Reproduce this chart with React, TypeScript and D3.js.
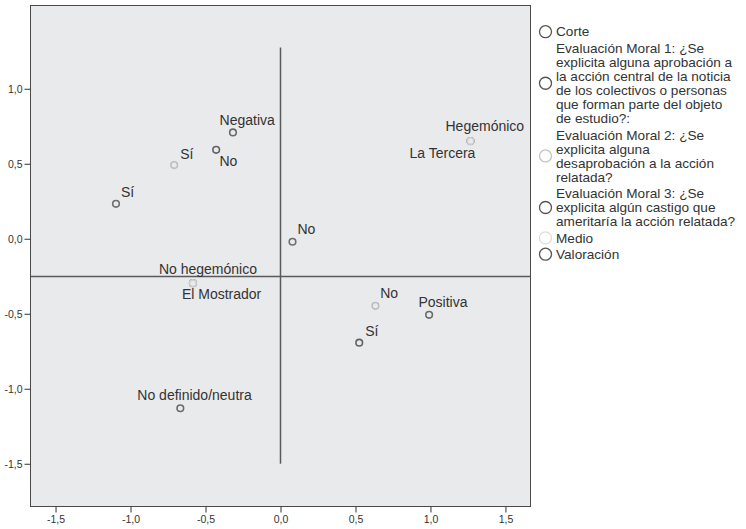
import { useEffect, useRef } from "react";
import * as d3 from "d3";

// category points, [x, y] coordinates
const corteLabels = ["Hegemónico", "No hegemónico"];
const corteX = [1.267, -0.584];
const corteY = [0.651, -0.296];

const em1Labels = ["Sí", "No"];
const em1X = [-1.097, 0.08];
const em1Y = [0.233, -0.02];

const em2Labels = ["Sí", "No"];
const em2X = [-0.709, 0.633];
const em2Y = [0.491, -0.447];

const em3Labels = ["Sí", "No"];
const em3X = [0.525, -0.429];
const em3Y = [-0.693, 0.593];

const medioLabels = ["La Tercera", "El Mostrador"];
const medioX = [1.267, -0.584];
const medioY = [0.651, -0.296];

const valoracionLabels = ["Negativa", "Positiva", "No definido/neutra"];
const valoracionX = [-0.317, 0.991, -0.668];
const valoracionY = [0.709, -0.507, -1.13];

const xTicks = [-1.5, -1.0, -0.5, 0.0, 0.5, 1.0, 1.5];
const yTicks = [-1.5, -1.0, -0.5, 0.0, 0.5, 1.0];

// reference lines
const vLineX = 0;
const vLineY = [-1.5, 1.275];
const hLineY = -0.251;

const legendItems = [
  "Corte",
  "Evaluación Moral 1: ¿Se\nexplicita alguna aprobación a\nla acción central de la noticia\nde los colectivos o personas\nque forman parte del objeto\nde estudio?:",
  "Evaluación Moral 2: ¿Se\nexplicita alguna\ndesaprobación a la acción\nrelatada?",
  "Evaluación Moral 3: ¿Se\nexplicita algún castigo que\nameritaría la acción relatada?",
  "Medio",
  "Valoración",
];

const SERIES_COLORS = ["#666666", "#6e6e6e", "#bdbdbd", "#626262", "#cfcfcf", "#6a6a6a"];
const LEGEND_COLORS = ["#555", "#555", "#c4c4c4", "#555", "#dcdcdc", "#555"];

// label placement relative to each point: [dx, dy]
const labelOffsets: Record<string, [number, number]> = {
  "corte-0": [-25, -10],
  "corte-1": [-34, -9.5],
  "em1-0": [5, -6.6],
  "em1-1": [5, -8],
  "em2-0": [6, -6.4],
  "em2-1": [4.7, -7.6],
  "em3-0": [6, -6.3],
  "em3-1": [3.3, 16.4],
  "medio-0": [-61, 16.6],
  "medio-1": [-11, 15.6],
  "valoracion-0": [-13.4, -7],
  "valoracion-1": [-10.7, -8.3],
  "valoracion-2": [-43, -8.4],
};

type Pt = { key: string; label: string; x: number; y: number; color: string };

function build(prefix: string, labels: string[], xs: number[], ys: number[], color: string): Pt[] {
  return labels.map((label, i) => ({ key: `${prefix}-${i}`, label, x: xs[i], y: ys[i], color }));
}

const commaFormat = (d: d3.NumberValue) =>
  d3.format(".1f")(d as number).replace(".", ",").replace("−", "-");

export default function App() {
  const ref = useRef<HTMLDivElement>(null);

  useEffect(() => {
    if (!ref.current) return;
    const container = ref.current;
    d3.select(container).select("svg").remove();

    const width = 746;
    const height = 529;
    const left = 30.5;
    const right = 530.5;
    const top = 5.5;
    const bottom = 506.5;
    const font = "'Liberation Sans',Arial,sans-serif";

    const x = d3.scaleLinear().domain([-1.667, 1.667]).range([left, right]);
    const y = d3.scaleLinear().domain([-1.785, 1.555]).range([bottom, top]);

    const svg = d3.create("svg")
      .attr("width", width)
      .attr("height", height)
      .attr("viewBox", [0, 0, width, height])
      .attr("style", `position:absolute;left:0;top:0;font-family:${font};`);

    svg.append("rect")
      .attr("x", left).attr("y", top)
      .attr("width", right - left).attr("height", bottom - top)
      .attr("fill", "#e9eaec");

    svg.append("line")
      .attr("x1", x(vLineX)).attr("x2", x(vLineX))
      .attr("y1", y(vLineY[0])).attr("y2", y(vLineY[1]))
      .attr("stroke", "#5a5a5a").attr("stroke-width", 1.5);
    svg.append("line")
      .attr("x1", left).attr("x2", right)
      .attr("y1", y(hLineY)).attr("y2", y(hLineY))
      .attr("stroke", "#5a5a5a").attr("stroke-width", 1.5);

    svg.append("rect")
      .attr("x", left).attr("y", top)
      .attr("width", right - left).attr("height", bottom - top)
      .attr("fill", "none")
      .attr("stroke", "#4a4a4a");

    svg.append("g")
      .attr("transform", `translate(${left},0)`)
      .call(d3.axisLeft(y).tickValues(yTicks).tickSize(6).tickPadding(2).tickFormat(commaFormat))
      .call(g => g.select(".domain").remove())
      .call(g => g.selectAll(".tick line").attr("stroke", "#333"))
      .call(g => g.selectAll(".tick text")
        .attr("fill", "#333").attr("font-size", 10.5).attr("font-family", font));

    svg.append("g")
      .attr("transform", `translate(0,${bottom})`)
      .call(d3.axisBottom(x).tickValues(xTicks).tickSize(6).tickPadding(3).tickFormat(commaFormat))
      .call(g => g.select(".domain").remove())
      .call(g => g.selectAll(".tick line").attr("stroke", "#333"))
      .call(g => g.selectAll(".tick text")
        .attr("fill", "#333").attr("font-size", 10.5).attr("font-family", font));

    const points: Pt[] = [
      ...build("corte", corteLabels, corteX, corteY, SERIES_COLORS[0]),
      ...build("em1", em1Labels, em1X, em1Y, SERIES_COLORS[1]),
      ...build("em2", em2Labels, em2X, em2Y, SERIES_COLORS[2]),
      ...build("em3", em3Labels, em3X, em3Y, SERIES_COLORS[3]),
      ...build("valoracion", valoracionLabels, valoracionX, valoracionY, SERIES_COLORS[5]),
      ...build("medio", medioLabels, medioX, medioY, SERIES_COLORS[4]),
    ];

    svg.append("g")
      .selectAll("circle")
      .data(points)
      .join("circle")
        .attr("cx", d => x(d.x))
        .attr("cy", d => y(d.y))
        .attr("r", 3.3)
        .attr("fill", "#e9eaec")
        .attr("stroke", d => d.color)
        .attr("stroke-width", 1.6);

    svg.append("g")
      .attr("font-size", 14)
      .attr("fill", "#333")
      .selectAll("text")
      .data(points)
      .join("text")
        .attr("x", d => x(d.x) + (labelOffsets[d.key]?.[0] ?? 5))
        .attr("y", d => y(d.y) + (labelOffsets[d.key]?.[1] ?? -6))
        .text(d => d.label);

    // legend
    const legend = svg.append("g").attr("font-size", 13.6).attr("fill", "#333");
    const lineH = 14.1;
    const gap = 16.3;
    let cy = 31.7;
    legendItems.forEach((item, i) => {
      const lines = item.split("\n");
      const firstY = cy;
      const lastY = cy + (lines.length - 1) * lineH;
      legend.append("circle")
        .attr("cx", 545.5)
        .attr("cy", (firstY + lastY) / 2)
        .attr("r", 6)
        .attr("fill", "#fff")
        .attr("stroke", LEGEND_COLORS[i])
        .attr("stroke-width", 1.3);
      lines.forEach((ln, j) => {
        legend.append("text")
          .attr("x", 556)
          .attr("y", firstY + j * lineH)
          .attr("dy", "0.35em")
          .text(ln);
      });
      cy = lastY + gap;
    });

    container.append(svg.node()!);
  }, []);

  return <div ref={ref} />;
}
